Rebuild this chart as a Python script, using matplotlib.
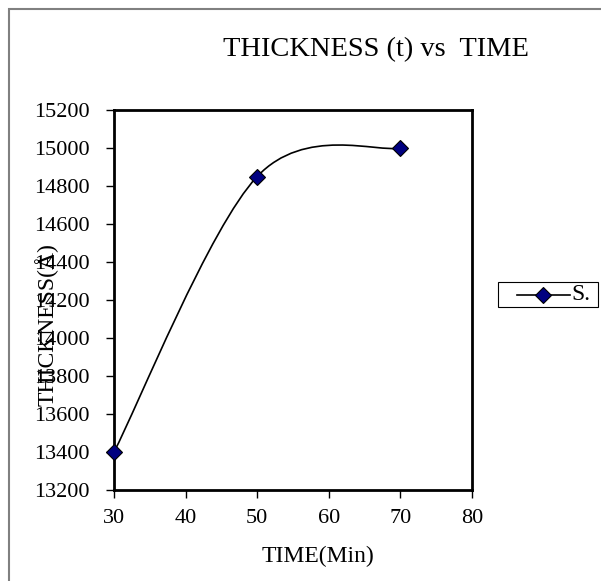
import numpy as np
import matplotlib
matplotlib.use('Agg')
from matplotlib import pyplot as plt
from matplotlib.path import Path
from matplotlib.patches import PathPatch, Rectangle
from matplotlib.lines import Line2D

plt.rcParams['font.family'] = ['Liberation Serif', 'DejaVu Serif']

# data
time_min = [30, 50, 70]
thickness = [13400, 14850, 15000]
series_name = 'S.'

W, H = 601, 581
fig = plt.figure(figsize=(W / 100, H / 100), dpi=100)

def fx(px):
    return px / W

def fy(py):
    return 1 - py / H

# axes box in pixels: left 114, right 472, top 110, bottom 490
ax = fig.add_axes([fx(114), fy(490), (472 - 114) / W, (490 - 110) / H])

# smoothed line like excel (catmull-rom style bezier through the points)
pts = np.column_stack([time_min, thickness]).astype(float)
verts = [tuple(pts[0])]
codes = [Path.MOVETO]
n = len(pts)
for i in range(n - 1):
    p0 = pts[i - 1] if i > 0 else pts[i]
    p1 = pts[i]
    p2 = pts[i + 1]
    p3 = pts[i + 2] if i + 2 < n else pts[i + 1]
    c1 = p1 + (p2 - p0) / 6
    c2 = p2 - (p3 - p1) / 6
    verts += [tuple(c1), tuple(c2), tuple(p2)]
    codes += [Path.CURVE4] * 3
ax.add_patch(PathPatch(Path(verts, codes), facecolor='none', edgecolor='black', lw=1.2))

ax.plot(time_min, thickness, linestyle='none', marker='D', markersize=8.5,
        markerfacecolor='#000080', markeredgecolor='black', markeredgewidth=0.8,
        clip_on=False, zorder=5)

ax.set_xlim(30, 80)
ax.set_ylim(13200, 15200)
ax.set_xticks(np.arange(30, 81, 10))
ax.set_yticks(np.arange(13200, 15201, 200))
ax.tick_params(direction='out', length=5.5, width=1, labelsize=16, color='black')
ax.tick_params(axis='y', pad=12)
ax.tick_params(axis='x', pad=8)
for s in ax.spines.values():
    s.set_linewidth(2)
    s.set_color('black')

fig.text(fx(376), fy(56), 'THICKNESS (t) vs  TIME', fontsize=20.5, ha='center', va='baseline')
fig.text(fx(318), fy(562), 'TIME(Min)', fontsize=17, ha='center', va='baseline')
fig.text(fx(47), fy(325), 'THICKNESS(\u00c5)', fontsize=17, ha='center', va='center',
         rotation=90)

# legend drawn by hand so it sits like the original (cut at the right edge)
fig.patches.append(Rectangle((fx(498), fy(307)), (598 - 498) / W, (307 - 282) / H,
                             transform=fig.transFigure, facecolor='white',
                             edgecolor='black', lw=0.8))
leg_y = fy(294.5)
fig.lines.append(Line2D([fx(517), fx(570)], [leg_y, leg_y], transform=fig.transFigure,
                        color='black', lw=1.2))
fig.lines.append(Line2D([fx(543)], [leg_y], transform=fig.transFigure, linestyle='none',
                        marker='D', markersize=8.5, markerfacecolor='#000080',
                        markeredgecolor='black', markeredgewidth=0.8))
fig.text(fx(571), leg_y, series_name, fontsize=17, ha='left', va='center')

# gray outer chart border
fig.patches.append(Rectangle((fx(9), -0.1), 1.2, fy(9) + 0.1, transform=fig.transFigure,
                             facecolor='none', edgecolor='#808080', lw=1.5, zorder=0))

fig.savefig('out.png', dpi=100)
